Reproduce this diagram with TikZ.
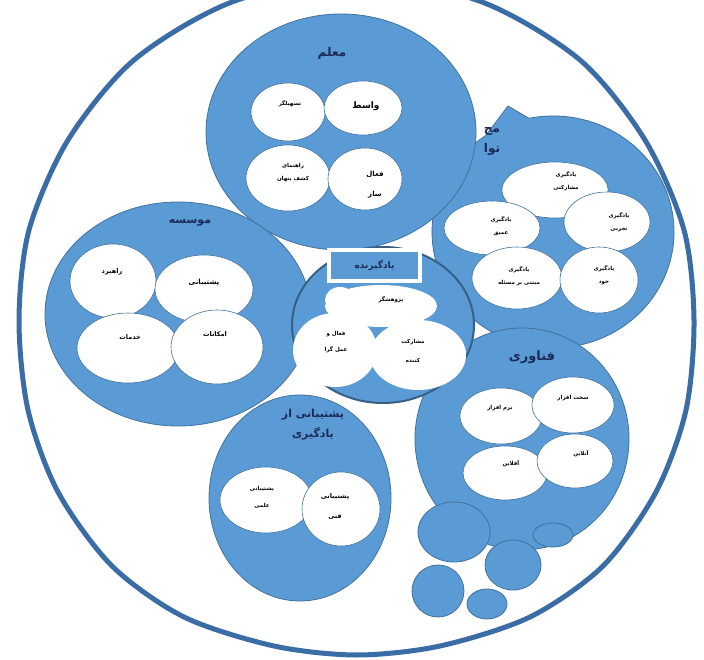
\documentclass[tikz,border=0pt]{standalone}
\usepackage{fontspec}
\usetikzlibrary{shapes.geometric}
\newfontfamily\farsifont[Script=Arabic]{DejaVu Sans}
\TeXXeTstate=1
\newcommand\fa[1]{{\farsifont\beginR #1\endR}}
\definecolor{blobfill}{HTML}{5B9BD5}
\definecolor{blobline}{HTML}{41719C}
\definecolor{ringline}{HTML}{3A6DA6}
\definecolor{titleink}{HTML}{1C2A58}

\begin{document}
\begin{tikzpicture}[x=1pt,y=-1pt,
	blob/.style={ellipse,draw=blobline,fill=blobfill,line width=0.8pt,inner sep=0pt},
	hole/.style={ellipse,draw=blobline,fill=white,line width=0.6pt,inner sep=0pt},
	cloud/.style={ellipse,fill=white,inner sep=0pt},
	head/.style={align=center,text=titleink,font=\bfseries\fontsize{12}{20}\selectfont},
	note/.style={align=center,font=\bfseries\fontsize{5.5}{13}\selectfont}]
	\useasboundingbox (0,0) rectangle (704,660);
	\clip (0,0) rectangle (704,660);
	\fill[white] (0,0) rectangle (704,660);
	\draw[ringline,line width=5pt] plot[smooth cycle] coordinates {(357,-24) (482,2) (580,60) (645,140) (684,230) (694,320) (686,410) (656,492) (603,566) (530,617) (440,646) (357,655) (274,646) (184,617) (112,566) (58,492) (28,410) (19,320) (29,230) (68,140) (134,60) (232,2)};
	% content
	\filldraw[draw=blobline,fill=blobfill,line width=0.8pt] (485.7,135.6) -- (508,106) -- (528.9,118.3) arc[start angle=101.5,end angle=-236.2,x radius=121pt,y radius=116pt] -- cycle;
	\coordinate (content) at (553,232);
	\node[head] (contentT) at (492,141) {\fa{مح}\\\fa{توا}};
	\node[hole,minimum width=106pt,minimum height=56pt] (coop) at (555,190) {};
	\node[hole,minimum width=96pt,minimum height=54pt] (deep) at (492,228) {};
	\node[hole,minimum width=86pt,minimum height=60pt] (exper) at (607,222) {};
	\node[hole,minimum width=90pt,minimum height=62pt] (probl) at (517,278) {};
	\node[hole,minimum width=78pt,minimum height=66pt] (self) at (599,280) {};
	\node[note] (coopT) at (566,181) {\fa{یادگیری}\\\fa{مشارکتی}};
	\node[note] (deepT) at (501,226) {\fa{یادگیری}\\\fa{عمیق}};
	\node[note] (experT) at (619,222) {\fa{یادگیری}\\\fa{تجربی}};
	\node[note] (problT) at (519,276) {\fa{یادگیری}\\\fa{مبتنی بر مسئله}};
	\node[note] (selfT) at (604,275) {\fa{یادگیری}\\\fa{خود}};
	% teacher
	\node[blob,minimum width=270pt,minimum height=236pt] (teacher) at (341,132) {};
	\node[head] (teacherT) at (332,53) {\fa{معلم}};
	\node[hole,minimum width=74pt,minimum height=58pt] (facil) at (288,112) {};
	\node[hole,minimum width=78pt,minimum height=54pt] (mediat) at (363,108) {};
	\node[hole,minimum width=84pt,minimum height=66pt] (guide) at (288,178) {};
	\node[hole,minimum width=74pt,minimum height=62pt] (activ) at (365,179) {};
	\node[note] (facilT) at (290,104) {\fa{تسهیلگر}};
	\node[note,font=\bfseries\fontsize{9}{11}\selectfont] (mediatT) at (366,106) {\fa{واسط}};
	\node[note] (guideT) at (293,173) {\fa{راهنمای}\\\fa{کشف پنهان}};
	\node[note,font=\bfseries\fontsize{7}{20}\selectfont] (activT) at (375,185) {\fa{فعال}\\\fa{ساز}};
	% institute
	\node[blob,minimum width=266pt,minimum height=224pt] (inst) at (178,314) {};
	\node[head,font=\bfseries\fontsize{11}{13}\selectfont] (instT) at (190,223) {\fa{موسسه}};
	\node[hole,minimum width=86pt,minimum height=74pt] (strat) at (113,281) {};
	\node[hole,minimum width=98pt,minimum height=68pt] (supp) at (204,289) {};
	\node[hole,minimum width=102pt,minimum height=70pt] (serv) at (128,348) {};
	\node[hole,minimum width=92pt,minimum height=74pt] (equip) at (217,347) {};
	\node[note,font=\bfseries\fontsize{6.5}{8}\selectfont] (stratT) at (112,272) {\fa{راهبرد}};
	\node[note,font=\bfseries\fontsize{7}{8}\selectfont] (suppT) at (204,283) {\fa{پشتیبانی}};
	\node[note,font=\bfseries\fontsize{6.5}{8}\selectfont] (servT) at (130,337) {\fa{خدمات}};
	\node[note,font=\bfseries\fontsize{6.5}{8}\selectfont] (equipT) at (215,334) {\fa{امکانات}};
	% technology
	\node[blob,minimum width=214pt,minimum height=222pt] (tech) at (522,439) {};
	\node[head,font=\bfseries\fontsize{13}{15}\selectfont] (techT) at (532,357) {\fa{فناوری}};
	\node[hole,minimum width=82pt,minimum height=56pt] (soft) at (501,416) {};
	\node[hole,minimum width=82pt,minimum height=56pt] (hard) at (573,405) {};
	\node[hole,minimum width=84pt,minimum height=54pt] (offl) at (505,473) {};
	\node[hole,minimum width=76pt,minimum height=54pt] (onl) at (575,461) {};
	\node[note] (softT) at (500,408) {\fa{نرم افزار}};
	\node[note] (hardT) at (573,398) {\fa{سخت افزار}};
	\node[note] (offlT) at (511,464) {\fa{آفلاین}};
	\node[note] (onlT) at (581,454) {\fa{آنلاین}};
	% learning support
	\node[blob,minimum width=182pt,minimum height=206pt] (lsupp) at (300,498) {};
	\node[head,font=\bfseries\fontsize{11}{20}\selectfont] (lsuppT) at (313,425) {\fa{پشتیبانی از}\\\fa{یادگیری}};
	\node[hole,minimum width=92pt,minimum height=66pt] (sci) at (266,500) {};
	\node[hole,minimum width=78pt,minimum height=74pt] (techsup) at (341,509) {};
	\node[note,font=\bfseries\fontsize{5.5}{17}\selectfont] (sciT) at (262,497) {\fa{پشتیبانی}\\\fa{علمی}};
	\node[note,font=\bfseries\fontsize{6.5}{20}\selectfont] (techsupT) at (335,506) {\fa{پشتیبانی}\\\fa{فنی}};
	% bubbles
	\node[blob,minimum width=72pt,minimum height=60pt] (bub1) at (454,532) {};
	\node[blob,minimum width=40pt,minimum height=24pt] (bub2) at (553,535) {};
	\node[blob,minimum width=56pt,minimum height=50pt] (bub3) at (513,565) {};
	\node[blob,minimum width=52pt,minimum height=52pt] (bub4) at (438,591) {};
	\node[blob,minimum width=40pt,minimum height=30pt] (bub5) at (487,604) {};
	% learner
	\node[blob,draw=blobline!85!black,line width=2pt,minimum width=182pt,minimum height=156pt] (learner) at (383,325) {};
	\node[draw=white,line width=4pt,fill=blobfill,minimum width=91pt,minimum height=31pt,text=titleink,font=\bfseries\fontsize{9}{11}\selectfont] (learnerT) at (374.5,265.5) {\fa{یادگیرنده}};
	\node[cloud,minimum width=112pt,minimum height=42pt] (resrch) at (381,306) {};
	\node[cloud,minimum width=30pt,minimum height=26pt] (lobe) at (340,300) {};
	\node[cloud,minimum width=84pt,minimum height=74pt] (active) at (335,350) {};
	\node[cloud,minimum width=96pt,minimum height=70pt] (partic) at (418,355) {};
	\node[note] (resrchT) at (391,300) {\fa{پژوهشگر}};
	\node[note,font=\bfseries\fontsize{5.5}{16}\selectfont] (activeT) at (336,342) {\fa{فعال و}\\\fa{عمل گرا}};
	\node[note,font=\bfseries\fontsize{5.5}{19}\selectfont] (particT) at (413,351) {\fa{مشارکت}\\\fa{کننده}};
\end{tikzpicture}
\end{document}
